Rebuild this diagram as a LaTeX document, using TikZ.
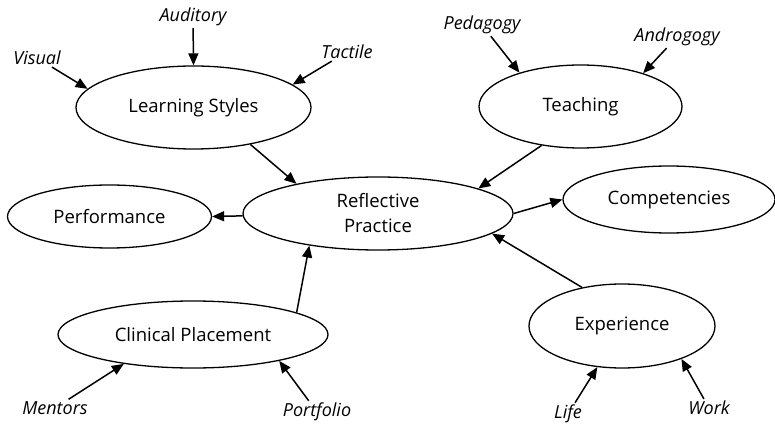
\documentclass[tikz,border=0pt]{standalone}
\usepackage{fontspec}
\setmainfont{Open Sans}
\usetikzlibrary{shapes.geometric,arrows.meta}

\begin{document}
\begin{tikzpicture}[x=1pt,y=-1pt,
  concept/.style={draw, ellipse, line width=1.3pt, inner sep=0pt, align=center,
    font=\fontsize{18.5}{25}\selectfont},
  factor/.style={inner sep=2pt, font=\fontsize{18}{20}\selectfont\itshape},
  arr/.style={-{Triangle[length=12pt,width=10pt]}, line width=1.5pt}]
  \useasboundingbox (0,0) rectangle (775,427);
  % concepts
  \node[concept, minimum width=235pt, minimum height=83pt] (ls)   at (193.5,107.5) {Learning Styles};
  \node[concept, minimum width=203pt, minimum height=83pt] (tch)  at (580.5,106.5) {Teaching};
  \node[concept, minimum width=270pt, minimum height=73pt] (rp)   at (378,213.5)   {Reflective\\Practice};
  \node[concept, minimum width=204pt, minimum height=63pt] (perf) at (109.5,216.5) {Performance};
  \node[concept, minimum width=212pt, minimum height=67pt] (comp) at (669,199.5)   {Competencies};
  \node[concept, minimum width=270pt, minimum height=67pt] (cp)   at (193,334.5)   {Clinical Placement};
  \node[concept, minimum width=186pt, minimum height=84pt] (exp)  at (622,326)     {Experience};
  % factors
  \node[factor] (vis)  at (37,58)   {Visual};
  \node[factor] (aud)  at (193,17)  {Auditory};
  \node[factor] (tac)  at (347,52)  {Tactile};
  \node[factor] (ped)  at (482,25)  {Pedagogy};
  \node[factor] (and)  at (677,37)  {Androgogy};
  \node[factor] (ment) at (55,408)  {Mentors};
  \node[factor] (port) at (317,412) {Portfolio};
  \node[factor] (life) at (568,414) {Life};
  \node[factor] (work) at (709,408) {Work};

  \path[arr]
  (vis) edge (ls.170)
  (aud) edge (ls.90)
  (tac) edge (ls.13)
  (ped) edge (tch.151)
  (and) edge (tch.28)
  (ment) edge (cp.203)
  (port) edge (cp.343)
  (life) edge (exp.-121)
  (work) edge (exp.-29.5)
  ;
  \path[arr]
  (ls.-33) edge (rp.160)
  (tch.-135) edge (rp.14)
  (rp.181) edge (perf.east)
  (rp.east) edge (comp.west)
  (cp.12) edge (rp.-155)
  (exp.136) edge (rp.-10)
  ;
\end{tikzpicture}
\end{document}
